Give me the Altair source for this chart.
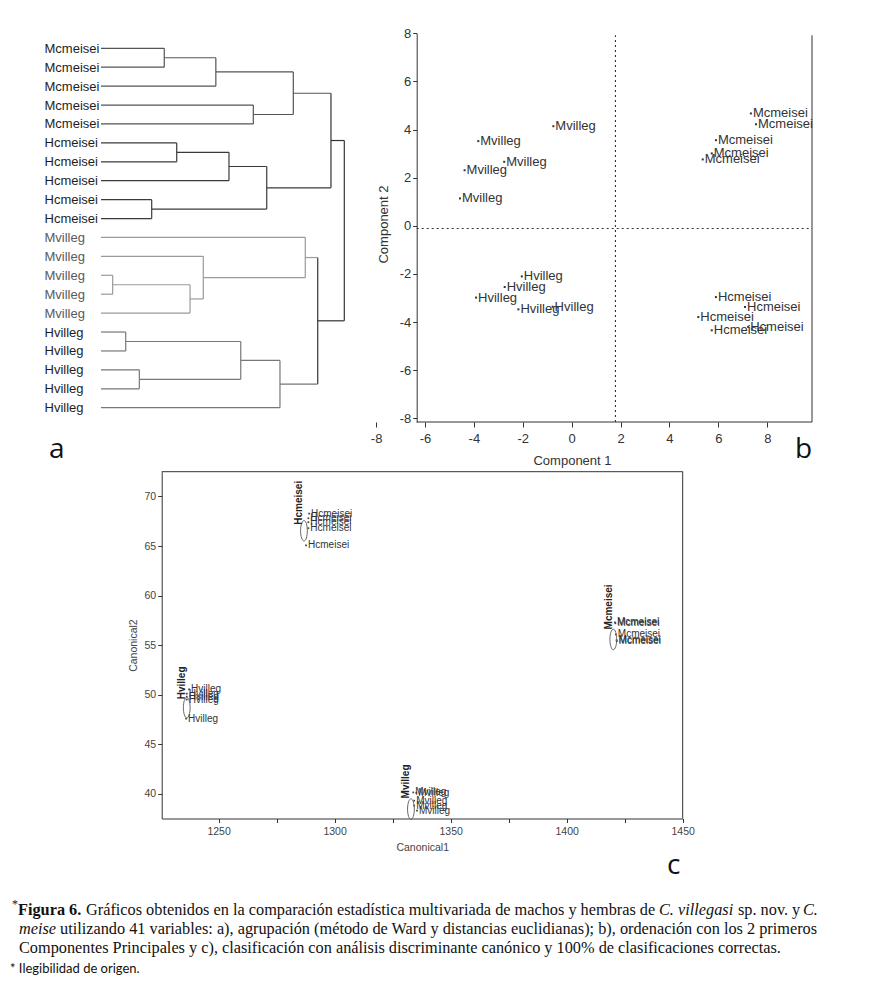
import json
import altair as alt
import pandas as pd

W, H = 871, 969

# ---------------- Panel a: dendrogram (Ward, euclidean) ----------------
leaf_labels = ["Mcmeisei"] * 5 + ["Hcmeisei"] * 5 + ["Mvilleg"] * 5 + ["Hvilleg"] * 5
merge_left = [0, 20, 3, 21, 5, 24, 8, 25, 23, 12, 29, 11, 10, 15, 17, 33, 35, 32, 28]
merge_right = [1, 2, 4, 22, 6, 7, 9, 26, 27, 13, 14, 30, 31, 16, 18, 34, 19, 36, 37]
merge_height = [6.5, 11.8, 15.65, 19.76, 7.78, 13.15, 5.21, 17.03, 23.63,
                1.2, 9.15, 10.51, 20.99, 2.54, 3.94, 14.36, 18.39, 22.27, 25.0]

# ---------------- Panel b: PCA ----------------
pca_label = ["Mvilleg"] * 5 + ["Hvilleg"] * 5 + ["Mcmeisei"] * 5 + ["Hcmeisei"] * 5
pca_c1 = [-0.75, -3.82, -2.76, -4.38, -4.57,
          -2.04, -2.74, -3.91, -2.18, -0.78,
          7.33, 7.54, 5.90, 5.73, 5.36,
          5.90, 7.09, 5.18, 5.73, 7.22]
pca_c2 = [4.14, 3.52, 2.66, 2.31, 1.14,
          -2.10, -2.54, -2.98, -3.47, -3.36,
          4.67, 4.22, 3.56, 3.01, 2.76,
          -2.96, -3.37, -3.79, -4.34, -4.20]
pca_xlim = [-6.34, 9.83]
pca_ylim = [-8.15, 7.92]
pca_cross = [1.79, -0.11]
pca_ticks = [-8, -6, -4, -2, 0, 2, 4, 6, 8]

# ---------------- Panel c: canonical discriminant ----------------
can_label = ["Hcmeisei"] * 5 + ["Mcmeisei"] * 5 + ["Hvilleg"] * 5 + ["Mvilleg"] * 5
can_1 = [1289.0, 1288.7, 1288.7, 1288.7, 1287.7,
         1420.8, 1421.0, 1421.2, 1421.5, 1421.6,
         1237.3, 1236.3, 1236.3, 1236.3, 1236.0,
         1333.9, 1335.2, 1334.3, 1334.3, 1335.5]
can_2 = [68.26, 67.80, 67.40, 66.80, 65.07,
         57.30, 57.20, 56.07, 55.50, 55.40,
         50.53, 50.10, 49.80, 49.50, 47.58,
         40.13, 40.10, 39.30, 38.80, 38.30]
cent_group = ["Hcmeisei", "Mcmeisei", "Hvilleg", "Mvilleg"]
cent_1 = [1286.8, 1420.1, 1236.3, 1332.9]
cent_2 = [66.54, 55.57, 48.69, 38.45]
cent_lab_1 = [1284.8, 1418.4, 1234.4, 1330.8]
cent_lab_2 = [67.15, 56.58, 49.53, 39.53]
can_xlim = [1225.5, 1450]
can_ylim = [37.5, 72.5]
can_xticks = [1250, 1275, 1300, 1325, 1350, 1375, 1400, 1425, 1450]
can_yticks = [40, 45, 50, 55, 60, 65, 70]

FONT = "Liberation Sans"
PLAIN = "'' + datum.value"

# ---- dendrogram segments built from the merge table ----
n_leaf = len(leaf_labels)
ypos = [float(i) for i in range(n_leaf)]
xpos = [0.0] * n_leaf
grp = list(leaf_labels)
for l, r, h in zip(merge_left, merge_right, merge_height):
    ypos.append((ypos[l] + ypos[r]) / 2)
    xpos.append(h)
    grp.append(grp[l] if grp[l] == grp[r] else "mixed")
segs = []
for i, (l, r, h) in enumerate(zip(merge_left, merge_right, merge_height)):
    m = n_leaf + i
    segs.append(dict(x=h, x2=h, y=ypos[l], y2=ypos[r], grp=grp[m]))
    for c in (l, r):
        segs.append(dict(x=xpos[c], x2=h, y=ypos[c], y2=ypos[c], grp=grp[c]))
seg_df = pd.DataFrame(segs)

xa = alt.Scale(domain=[0, 25], range=[93, 336.3], nice=False, zero=False)
ya = alt.Scale(domain=[0, n_leaf - 1], range=[40.3, 399.7], nice=False, zero=False)
label_expr = json.dumps(leaf_labels) + "[datum.value]"
dendro = alt.Chart(seg_df).mark_rule(strokeWidth=1.2).encode(
    x=alt.X("x:Q", scale=xa, axis=None),
    x2="x2:Q",
    y=alt.Y("y:Q", scale=ya, axis=alt.Axis(
        orient="left", offset=-93, domain=False, ticks=False, tickSize=0,
        labelPadding=57, labelAlign="left", labelBaseline="middle",
        values=list(range(n_leaf)), labelExpr=label_expr, title=None,
        labelFontSize=13, labelFont=FONT, labelOverlap=False, labelFlush=False,
        labelBound=False,
        labelColor={"condition": {"test": "datum.value >= 10 && datum.value < 15", "value": "#5a5a5a"},
                    "value": "#1e1e1e"})),
    y2="y2:Q",
    color=alt.Color("grp:N", legend=None, scale=alt.Scale(
        domain=["Mcmeisei", "Hcmeisei", "Mvilleg", "Hvilleg", "mixed"],
        range=["#555555", "#3a3a3a", "#9a9a9a", "#777777", "#333333"])),
)

# ---- panel b ----
xb = alt.Scale(domain=[-8, 9.83], range=[368.1, 804.0], nice=False, zero=False)
yb = alt.Scale(domain=[-8.15, 8], range=[414.0, 25.3], nice=False, zero=False)
pca_df = pd.DataFrame({"label": pca_label, "c1": pca_c1, "c2": pca_c2})
b_pts = alt.Chart(pca_df).mark_point(shape="square", filled=True, size=4, color="#333333", opacity=1).encode(
    x=alt.X("c1:Q", scale=xb, axis=alt.Axis(
        orient="bottom", offset=414 - H, domain=False, values=pca_ticks, labelExpr=PLAIN,
        tickSize=5, tickColor="#333333", labelPadding=5, labelFontSize=13, labelColor="#333333",
        title="Component 1", titleX=564, titleY=38, titleBaseline="middle",
        titleFontSize=13, titleColor="#333333", labelFlush=False)),
    y=alt.Y("c2:Q", scale=yb, axis=alt.Axis(
        orient="left", offset=-408.7, domain=True, domainColor="#333333", values=pca_ticks,
        labelExpr=PLAIN, tickSize=4, tickColor="#333333", labelPadding=2, labelFontSize=13,
        labelColor="#333333", title="Component 2", titleX=-33.4, titleY=216,
        titleBaseline="middle", titleAlign="center", titleFontSize=13, titleColor="#333333")),
)
b_txt = alt.Chart(pca_df).mark_text(align="left", baseline="middle", dx=2, fontSize=13,
                                    font=FONT, color="#333333").encode(
    x=alt.X("c1:Q", scale=xb, axis=None), y=alt.Y("c2:Q", scale=yb, axis=None), text="label:N")
b_frame_df = pd.DataFrame({
    "x": [pca_xlim[0], pca_xlim[1]], "x2": [pca_xlim[1], pca_xlim[1]],
    "y": [pca_ylim[0], pca_ylim[0]], "y2": [pca_ylim[0], pca_ylim[1]]})
b_frame = alt.Chart(b_frame_df).mark_rule(color="#333333", strokeWidth=1).encode(
    x=alt.X("x:Q", scale=xb, axis=None), x2="x2:Q",
    y=alt.Y("y:Q", scale=yb, axis=None), y2="y2:Q")
b_cross_df = pd.DataFrame({
    "x": [pca_cross[0], pca_xlim[0]], "x2": [pca_cross[0], pca_xlim[1]],
    "y": [pca_ylim[0], pca_cross[1]], "y2": [pca_ylim[1], pca_cross[1]]})
b_cross = alt.Chart(b_cross_df).mark_rule(color="#333333", strokeWidth=1.1, strokeDash=[2, 3]).encode(
    x=alt.X("x:Q", scale=xb, axis=None), x2="x2:Q",
    y=alt.Y("y:Q", scale=yb, axis=None), y2="y2:Q")

# ---- panel c ----
xc = alt.Scale(domain=can_xlim, range=[153.7, 674.7], nice=False, zero=False)
yc = alt.Scale(domain=can_ylim, range=[810.5, 463.7], nice=False, zero=False)
can_df = pd.DataFrame({"label": can_label, "k1": can_1, "k2": can_2})
cent_df = pd.DataFrame({"g": cent_group, "k1": cent_1, "k2": cent_2,
                        "l1": cent_lab_1, "l2": cent_lab_2})
c_pts = alt.Chart(can_df).mark_point(shape="square", filled=True, size=3, color="#444444", opacity=1).encode(
    x=alt.X("k1:Q", scale=xc, axis=alt.Axis(
        orient="bottom", offset=810.5 - H, domain=True, domainColor="#333333", values=can_xticks,
        labelExpr="datum.value % 50 == 0 ? '' + datum.value : ''", tickSize=4, tickColor="#333333",
        labelPadding=4, labelFontSize=10.5, labelColor="#444444", labelFlush=False,
        title="Canonical1", titleY=29, titleBaseline="middle", titleFontSize=10.5,
        titleColor="#444444")),
    y=alt.Y("k2:Q", scale=yc, axis=alt.Axis(
        orient="left", offset=-153.7, domain=True, domainColor="#333333", values=can_yticks,
        labelExpr=PLAIN, tickSize=4, tickColor="#333333", labelPadding=2, labelFontSize=10.5,
        labelColor="#444444", title="Canonical2", titleX=-28.4, titleBaseline="middle",
        titleFontSize=10.5, titleColor="#444444")),
)
c_txt = alt.Chart(can_df).mark_text(align="left", baseline="middle", dx=2, fontSize=10,
                                    font=FONT, color="#333333").encode(
    x=alt.X("k1:Q", scale=xc, axis=None), y=alt.Y("k2:Q", scale=yc, axis=None), text="label:N")
ellipse_path = "M0,-1A0.33,1,0,1,1,0,1A0.33,1,0,1,1,0,-1Z"
c_ell = alt.Chart(cent_df).mark_point(shape=ellipse_path, size=420, filled=False,
                                      color="#666666", strokeWidth=1, opacity=1).encode(
    x=alt.X("k1:Q", scale=xc, axis=None), y=alt.Y("k2:Q", scale=yc, axis=None))
c_cen = alt.Chart(cent_df).mark_text(align="left", baseline="middle", angle=270, fontSize=10,
                                     fontWeight="bold", font=FONT, color="#222222").encode(
    x=alt.X("l1:Q", scale=xc, axis=None), y=alt.Y("l2:Q", scale=yc, axis=None), text="g:N")
c_frame_df = pd.DataFrame({
    "x": [can_xlim[0], can_xlim[1]], "x2": [can_xlim[1], can_xlim[1]],
    "y": [can_ylim[1], can_ylim[0]], "y2": [can_ylim[1], can_ylim[1]]})
c_frame = alt.Chart(c_frame_df).mark_rule(color="#333333", strokeWidth=1).encode(
    x=alt.X("x:Q", scale=xc, axis=None), x2="x2:Q",
    y=alt.Y("y:Q", scale=yc, axis=None), y2="y2:Q")


# ---- annotations ----
def note(text, x, y, size, font, weight="normal", style="normal", color="#111111"):
    return alt.Chart(pd.DataFrame({"t": [text]})).mark_text(
        align="left", baseline="middle", font=font, fontSize=size, fontWeight=weight,
        fontStyle=style, color=color).encode(text="t:N", x=alt.value(x), y=alt.value(y))


SERIF = "Liberation Serif"
CS = 16.3
notes = [
    note("a", 41, 442, 28, "Open Sans"),
    note("b", 787, 442, 28, "Open Sans"),
    note("c", 659, 858, 28, "Open Sans"),
    note("*", 4, 896, 12, SERIF),
    note("Figura 6.", 10, 902, CS, SERIF, weight="bold"),
    note("Gráficos obtenidos en la comparación estadística multivariada de machos y hembras de",
         78, 902, CS, SERIF),
    note("C. villegasi", 651, 902, CS, SERIF, style="italic"),
    note("sp. nov. y", 730, 902, CS, SERIF),
    note("C.", 795, 902, CS, SERIF, style="italic"),
    note("meise", 11, 921, CS, SERIF, style="italic"),
    note("utilizando 41 variables: a), agrupación (método de Ward y distancias euclidianas); b), ordenación con los 2 primeros",
         52, 921, CS, SERIF),
    note("Componentes Principales y c), clasificación con análisis discriminante canónico y 100% de clasificaciones correctas.",
         11, 940, CS, SERIF),
    note("* Ilegibilidad de origen.", 2, 961, 13, "Lato"),
]

layers = [dendro, b_pts, c_pts, b_frame, b_cross, b_txt, c_frame, c_ell, c_txt, c_cen] + notes
chart = alt.layer(*layers).resolve_scale(
    x="independent", y="independent", color="independent"
).properties(
    width=W, height=H, padding=0, autosize=alt.AutoSizeParams(type="none")
).configure_view(stroke=None).configure_axis(
    grid=False, labelFont=FONT, titleFont=FONT, titleFontWeight="normal"
)

chart.save("out.html", embed_options={"renderer": "svg", "actions": False})
